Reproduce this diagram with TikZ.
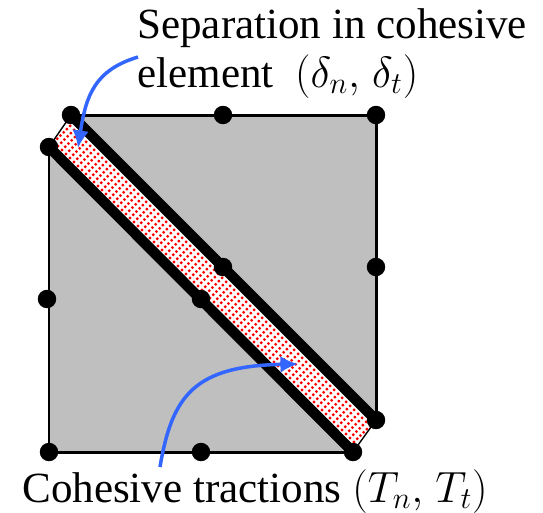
\documentclass[tikz,border=0pt]{standalone}
\usepackage{amsmath}
\usepackage{fontspec}
\setmainfont{Liberation Serif}
\usepackage{tikz}
\usetikzlibrary{arrows.meta, positioning}
\definecolor{elemgray}{RGB}{191,191,191}
\definecolor{arrowblue}{RGB}{51,102,255}
\tikzset{
    gridpt/.style={circle, fill=black, inner sep=0pt, minimum size=10.5pt},
    callout/.style={arrowblue, line width=2pt, -{Latex[length=10pt, width=9.5pt]}},
    lbl/.style={inner sep=0pt, font=\fontsize{24.5}{29}\selectfont, align=left}
}
\begin{document}
\begin{tikzpicture}[x=0.02cm, y=-0.02cm]
        \useasboundingbox (0,0) rectangle (543,512);
        % element
        \fill[elemgray] (71,115) -- (376,115) -- (376,420) -- (353,452) -- (49,452) -- (49,147) -- cycle;
        \draw[line width=1.7pt] (71,115) -- (376,115) -- (376,420);
        \draw[line width=1.7pt] (49,147) -- (49,452) -- (353,452);

        % opened band
        \fill[white] (71,115) -- (376,420) -- (353,452) -- (49,147) -- cycle;
        \begin{scope}
            \clip (71,115) -- (376,420) -- (353,452) -- (49,147) -- cycle;
            \foreach \s in {-170,-166,...,170}
                \draw[red, line width=1.8pt, line cap=round, dash pattern=on 0pt off 2.6pt]
                    (212+\s,284+\s) ++(-50,50) -- ++(100,-100);
        \end{scope}
        \draw[line width=6pt] (71,115) -- (376,420);
        \draw[line width=6pt] (49,147) -- (353,452);
        \draw[line width=0.8pt] (71,115) -- (49,147);
        \draw[line width=0.8pt] (376,420) -- (353,452);

        % nodes
        \foreach \nm/\x/\y in {a/71/115, b/223/115, c/376/115, d/49/147, e/47/299, f/376/267,
                               g/223/267, h/201/299, i/49/452, j/201/452, k/353/452, l/376/420}
            \node[gridpt] (\nm) at (\x,\y) {};

        % labels
        \node[lbl, anchor=base west] (sep) at (137,38) {Separation in cohesive};
        \node[lbl, anchor=base west] (elem) at (137,87) {element\ \ $(\delta_n,\mkern2mu\delta_t)$};
        \node[lbl, anchor=base west] (coh) at (22,502) {Cohesive tractions $(T_n,\mkern2mu T_t)$};

        % arrows
        \coordinate (sepend) at (78,148);
        \coordinate (sepstart) at (138,57);
        \coordinate (cohend) at (298,364);
        \coordinate (cohstart) at (160,467);
        \draw[callout] (sepstart) .. controls (95,70) and (86,95) .. (sepend);
        \draw[callout] (cohstart) .. controls (172,395) and (195,366) .. (cohend);
\end{tikzpicture}
\end{document}
